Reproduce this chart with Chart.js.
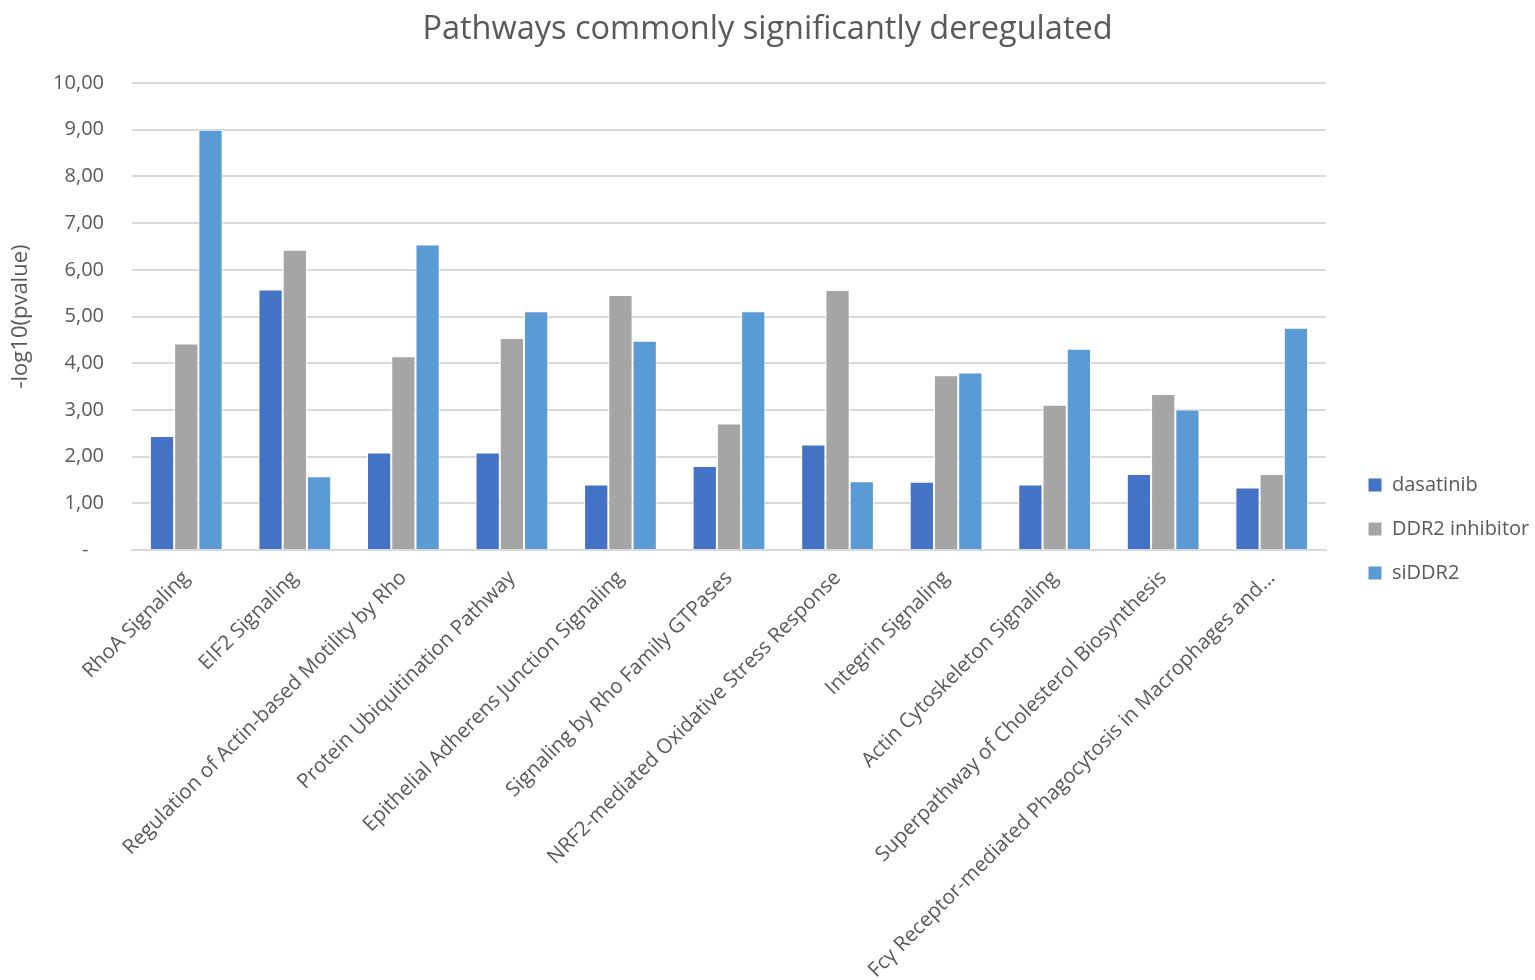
<!DOCTYPE html>
<html>
<head>
<meta charset="utf-8">
<script src="https://cdn.jsdelivr.net/npm/chart.js@4/dist/chart.umd.min.js"></script>
<style>
  html, body { margin: 0; padding: 0; background: #fff; }
  #wrap { width: 1535px; height: 980px; position: relative; }
</style>
</head>
<body>
<div id="wrap"><canvas id="pathwayChart"></canvas></div>
<script>
const pathways = [
  "RhoA Signaling",
  "EIF2 Signaling",
  "Regulation of Actin-based Motility by Rho",
  "Protein Ubiquitination Pathway",
  "Epithelial Adherens Junction Signaling",
  "Signaling by Rho Family GTPases",
  "NRF2-mediated Oxidative Stress Response",
  "Integrin Signaling",
  "Actin Cytoskeleton Signaling",
  "Superpathway of Cholesterol Biosynthesis",
  "Fcγ Receptor-mediated Phagocytosis in Macrophages and..."
];
const dasatinib = [2.44, 5.58, 2.09, 2.09, 1.40, 1.80, 2.26, 1.46, 1.40, 1.63, 1.34];
const ddr2Inhibitor = [4.42, 6.43, 4.15, 4.54, 5.46, 2.71, 5.57, 3.74, 3.11, 3.34, 1.63];
const siDDR2 = [9.00, 1.58, 6.54, 5.11, 4.48, 5.11, 1.47, 3.80, 4.31, 3.01, 4.76];

const textColor = "#595959";
const fontFamily = "'Open Sans', 'Noto Sans', sans-serif";

// legend sits a bit away from the plot, like the Excel original
const legendGap = {
  id: "legendGap",
  afterInit(chart) {
    const legend = chart.legend;
    const fit = legend.fit;
    legend.fit = function () {
      fit.call(this);
      this.width = 209;
    };
    const draw = legend.draw;
    legend.draw = function () {
      const c = this.ctx;
      c.save();
      c.translate(18, 0);
      draw.apply(this, arguments);
      c.restore();
    };
  }
};

const ctx = document.getElementById("pathwayChart");
new Chart(ctx, {
  type: "bar",
  data: {
    labels: pathways,
    datasets: [
      { label: "dasatinib", data: dasatinib, backgroundColor: "#4472C4" },
      { label: "DDR2 inhibitor", data: ddr2Inhibitor, backgroundColor: "#A5A5A5" },
      { label: "siDDR2", data: siDDR2, backgroundColor: "#5B9BD5" }
    ].map(ds => ({
      ...ds,
      borderColor: "#ffffff",
      borderWidth: 1,
      categoryPercentage: 0.67,
      barPercentage: 1.0
    }))
  },
  plugins: [legendGap],
  options: {
    responsive: true,
    maintainAspectRatio: false,
    animation: false,
    layout: { padding: { top: 6, right: 0, left: 0, bottom: 0 } },
    plugins: {
      title: {
        display: true,
        text: "Pathways commonly significantly deregulated",
        color: textColor,
        font: { family: fontFamily, size: 32.5, weight: "normal" },
        padding: { top: 4, bottom: 34 }
      },
      legend: {
        position: "right",
        title: {
          display: true,
          text: " ",
          font: { size: 10 },
          padding: 30
        },
        labels: {
          color: textColor,
          font: { family: fontFamily, size: 20 },
          boxWidth: 14,
          boxHeight: 14,
          padding: 24
        }
      },
      tooltip: { enabled: false }
    },
    scales: {
      x: {
        grid: { display: false, drawTicks: false },
        border: { display: true, color: "#d9d9d9", width: 2 },
        ticks: {
          color: textColor,
          font: { family: fontFamily, size: 20.5 },
          maxRotation: 45,
          minRotation: 45,
          autoSkip: false,
          padding: 16
        },
        afterFit: scale => { scale.height = 430; }
      },
      y: {
        min: 0,
        max: 10,
        grid: { color: "#d9d9d9", lineWidth: 2, drawTicks: false },
        border: { display: false },
        ticks: {
          stepSize: 1,
          color: textColor,
          font: { family: fontFamily, size: 20 },
          padding: 28,
          callback: v => v === 0 ? "-   " : v.toFixed(2).replace(".", ",")
        },
        title: {
          display: true,
          text: "-log10(pvalue)",
          color: textColor,
          font: { family: fontFamily, size: 22 },
          padding: { top: 8, bottom: 8 }
        },
        afterFit: scale => { scale.width = 132; }
      }
    }
  }
});
</script>
</body>
</html>
